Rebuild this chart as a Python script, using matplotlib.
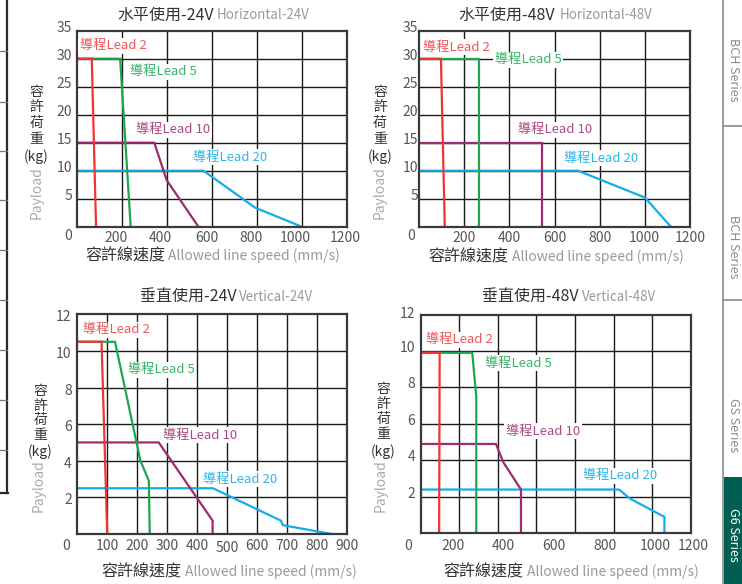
import numpy as np
import matplotlib
matplotlib.use("Agg")
import matplotlib.pyplot as plt
from matplotlib.transforms import offset_copy
from matplotlib.patches import Rectangle
from matplotlib.lines import Line2D

W, H = 742, 584
plt.rcParams['font.family'] = ['Noto Sans CJK TC', 'DejaVu Sans']

# ---------------- data ----------------
lead_names = ['導程Lead 2', '導程Lead 5', '導程Lead 10', '導程Lead 20']
titles_cn = ['水平使用-24V', '水平使用-48V', '垂直使用-24V', '垂直使用-48V']
titles_en = ['Horizontal-24V', 'Horizontal-48V', 'Vertical-24V', 'Vertical-48V']
xlabel_cn = '容許線速度'
xlabel_en = 'Allowed line speed (mm/s)'
ylabel_chars = ['容', '許', '荷', '重', '(kg)']
ylabel_en = 'Payload'
tab_texts = ['BCH Series', 'BCH Series', 'GS Series', 'G6 Series']

# Horizontal 24V  (speed mm/s, payload kg)
h24_lead2_x = [0, 67, 86];                 h24_lead2_y = [30, 30, 0]
h24_lead5_x = [0, 193, 240];               h24_lead5_y = [30, 30, 0]
h24_lead10_x = [0, 345, 358, 400, 541];    h24_lead10_y = [15, 15, 13.4, 8.3, 0]
h24_lead20_x = [0, 563, 793, 1000];        h24_lead20_y = [10, 10, 3.4, 0]

# Horizontal 48V
h48_lead2_x = [0, 96, 113];                h48_lead2_y = [30, 30, 0]
h48_lead5_x = [0, 264, 264];               h48_lead5_y = [30, 30, 0]
h48_lead10_x = [0, 545, 545];              h48_lead10_y = [15, 15, 0]
h48_lead20_x = [0, 704, 1001, 1116];       h48_lead20_y = [10, 10, 5.2, 0]

# Vertical 24V
v24_lead2_x = [0, 81, 100];                v24_lead2_y = [10.5, 10.5, 0]
v24_lead5_x = [0, 126, 211, 239, 242];     v24_lead5_y = [10.5, 10.5, 4.0, 2.9, 0]
v24_lead10_x = [0, 272, 452, 452];         v24_lead10_y = [5, 5, 0.73, 0]
v24_lead20_x = [0, 453, 680, 687, 850];    v24_lead20_y = [2.5, 2.5, 0.73, 0.48, 0]

# Vertical 48V
v48_lead2_x = [0, 147, 145];               v48_lead2_y = [9.9, 9.9, 0]
v48_lead5_x = [0, 276, 292, 292];          v48_lead5_y = [9.9, 9.9, 7.5, 0]
v48_lead10_x = [0, 370, 399, 469, 469];    v48_lead10_y = [4.9, 4.9, 3.9, 2.4, 0]
v48_lead20_x = [0, 857, 901, 1037, 1037];  v48_lead20_y = [2.4, 2.4, 1.9, 0.9, 0]

h_xticks = [0, 200, 400, 600, 800, 1000, 1200]
h_yticks = [5, 10, 15, 20, 25, 30, 35]
v24_xticks = [0, 100, 200, 300, 400, 500, 600, 700, 800, 900]
v48_xticks = [0, 200, 400, 600, 800, 1000, 1200]
v_yticks = [2, 4, 6, 8, 10, 12]

series = [
    [(h24_lead2_x, h24_lead2_y), (h24_lead5_x, h24_lead5_y), (h24_lead10_x, h24_lead10_y), (h24_lead20_x, h24_lead20_y)],
    [(h48_lead2_x, h48_lead2_y), (h48_lead5_x, h48_lead5_y), (h48_lead10_x, h48_lead10_y), (h48_lead20_x, h48_lead20_y)],
    [(v24_lead2_x, v24_lead2_y), (v24_lead5_x, v24_lead5_y), (v24_lead10_x, v24_lead10_y), (v24_lead20_x, v24_lead20_y)],
    [(v48_lead2_x, v48_lead2_y), (v48_lead5_x, v48_lead5_y), (v48_lead10_x, v48_lead10_y), (v48_lead20_x, v48_lead20_y)],
]

# ---------------- style / layout ----------------
line_colors = ['#ee3535', '#1ea64f', '#9c2c6c', '#15aceb']
text_colors = ['#f25558', '#36b46a', '#ab4a83', '#2db6ee']
DARK = '#333333'
GRAY = '#9a9a9a'
TICK = '#555555'
YS = 2.0      # vertical correction for text (px, downward)
TYS = 3.0     # vertical correction for tick labels (px, downward)

def fx(x):
    return x / W

def fy(y):
    return 1 - y / H

# per panel: axes box in px (left, top, right, bottom)
boxes = [(76.7, 30.7, 346.7, 226.7), (419.3, 30.7, 689.8, 226.7),
         (77.3, 314.3, 346.7, 534.0), (420.7, 314.5, 690.7, 533.3)]
xlims = [(0, 1200), (0, 1200), (0, 900), (72, 1141)]
ylims = [(0, 35), (0, 35), (0, 12), (0, 12)]
xticks_all = [h_xticks, h_xticks, v24_xticks, v48_xticks]
yticks_all = [h_yticks, h_yticks, v_yticks, v_yticks]
xgrid = [[200, 400, 600, 800, 1000], [200, 400, 600, 800, 1000],
         [100, 200, 300, 400, 500, 600, 700, 800],
         list(np.linspace(72, 1141, 8)[1:-1])]
ygrid = [[5, 10, 15, 20, 25, 30], [5, 10, 15, 20, 25, 30], [2, 4, 6, 8, 10], [2, 4, 6, 8, 10]]
# tick label pixel offsets (dx, dy)
xtick_dx = [[-8.4, -6, -6, -5, -6, -6, -1], [-8.3, 0, 0, 0, 0, 0, 0],
            [-11.3, 0, 0, 0, 0, 0, 0, 0, 0, 0], [5.4, 0, 0, 0, 0, 0, -12.6]]
xtick_dy = [[-6.3] + [-8.4] * 6, [-6.6] + [-8.4] * 6,
            [-9, -9, -9, -9, -9, -11, -9, -9, -9, -9], [-10] * 7]
ytick_dx = [-4.7, -1.0, -5.6, -5.7]
ytick_dy = [[5.7] * 7, [5.7] * 7, [0] * 6, [6, 6, 6, 6, 6, 3.7]]

# text positions (px)
title_split = [(213.5, 216.5, 13), (555.0, 559.3, 13), (236.7, 239.3, 295), (578.3, 581.7, 295)]
xlabel_split = [(165, 168.3, 254), (508.3, 511.7, 255), (181.7, 185, 570), (523.3, 526.7, 570)]
ylab_x = [36.5, 380, 40.5, 383.5]
ylab_ys = [[90, 105.5, 121, 137, 155], [90, 105.5, 121, 137, 155],
           [389, 404, 418, 433, 450], [387, 402, 417, 432, 450]]
payload_pos = [(37, 192.5), (379.5, 192.5), (39, 486), (381, 486)]
lead_pos = [
    [(80, 44), (130, 70), (136, 128), (193, 155)],
    [(423, 45), (495, 58), (518, 128), (564, 156)],
    [(83, 328), (128, 368), (163, 433), (203, 477)],
    [(426, 338), (485, 361), (506, 429), (583, 474)],
]
tab_pos = [(733, 70), (733, 247), (733, 425), (733, 535)]
tab_colors = ['#8a8a8a', '#8a8a8a', '#8a8a8a', 'white']

fig = plt.figure(figsize=(W / 100, H / 100), dpi=100)
fig.patch.set_facecolor('white')

def ftext(x, y, s, **kw):
    return fig.text(fx(x), fy(y + YS), s, **kw)

for i in range(4):
    l, t, r, b = boxes[i]
    ax = fig.add_axes([fx(l), fy(b), (r - l) / W, (b - t) / H])
    ax.set_xlim(*xlims[i])
    ax.set_ylim(*ylims[i])
    ax.set_xticks(xgrid[i])
    ax.set_yticks(ygrid[i])
    ax.tick_params(length=0, labelbottom=False, labelleft=False)
    ax.grid(True, color='#1a1a1a', linewidth=1.0, zorder=0)
    ax.set_axisbelow(True)
    for sp in ax.spines.values():
        sp.set_color('#3a3a3a')
        sp.set_linewidth(1.6)
        sp.set_zorder(5)
    # data lines (blue bottom, red top)
    for k in [3, 2, 1, 0]:
        xs, ys = series[i][k]
        ax.plot(xs, ys, color=line_colors[k], linewidth=1.6,
                solid_joinstyle='miter', zorder=2 + (3 - k) * 0.1)
    # tick labels
    for v, dx, dy in zip(xticks_all[i], xtick_dx[i], xtick_dy[i]):
        tr = offset_copy(ax.get_xaxis_transform(), fig=fig, x=dx, y=dy - TYS, units='dots')
        ax.text(v, 0, str(v), transform=tr, ha='center', va='center',
                fontsize=10, color=TICK)
    for v, dy in zip(yticks_all[i], ytick_dy[i]):
        tr = offset_copy(ax.get_yaxis_transform(), fig=fig, x=ytick_dx[i], y=dy - TYS, units='dots')
        ax.text(0, v, str(v), transform=tr, ha='right', va='center',
                fontsize=10, color=TICK)
    # titles
    xa, xb, yy = title_split[i]
    ftext(xa, yy, titles_cn[i], ha='right', va='center', fontsize=11.5, color=DARK)
    ftext(xb, yy, titles_en[i], ha='left', va='center', fontsize=9.6,
          color=GRAY, fontweight='light')
    # x label
    xa, xb, yy = xlabel_split[i]
    ftext(xa, yy, xlabel_cn, ha='right', va='center', fontsize=11.5, color=DARK)
    ftext(xb, yy, xlabel_en, ha='left', va='center', fontsize=10,
          color=GRAY, fontweight='light')
    # y label (stacked characters)
    for ch, yy in zip(ylabel_chars, ylab_ys[i]):
        ftext(ylab_x[i], yy, ch, ha='center', va='center', fontsize=10, color=DARK)
    px, py = payload_pos[i]
    fig.text(fx(px), fy(py), ylabel_en, rotation=90, ha='center', va='center',
             fontsize=10, color='#aaaaaa', fontweight='light')
    # lead annotations
    for k in range(4):
        lx, ly = lead_pos[i][k]
        ftext(lx, ly, lead_names[k], ha='left', va='center', fontsize=9.5,
              color=text_colors[k],
              bbox=dict(facecolor='white', edgecolor='none', pad=1.2))

# ---------------- page decorations (cropped page edges) ----------------
fig.add_artist(Line2D([fx(7.5), fx(7.5)], [fy(0), fy(493)], color='#2a2a2a', linewidth=1.6))
fig.add_artist(Line2D([fx(0), fx(8.3)], [fy(493), fy(493)], color='#2a2a2a', linewidth=1.6))
for yy in [51, 102, 151, 200, 250, 300, 350, 400, 450]:
    fig.add_artist(Line2D([fx(0), fx(7.5)], [fy(yy), fy(yy)], color='#777777', linewidth=0.9))

fig.add_artist(Line2D([fx(723), fx(723)], [fy(0), fy(584)], color='#8a8a8a', linewidth=1.2))
for yy in [126, 300]:
    fig.add_artist(Line2D([fx(723), fx(742)], [fy(yy), fy(yy)], color='#8a8a8a', linewidth=1.2))
fig.add_artist(Rectangle((fx(723.5), 0), fx(742) - fx(723.5), fy(477), transform=fig.transFigure,
                         facecolor='#005f50', edgecolor='none'))
for txt, (tx, ty), col in zip(tab_texts, tab_pos, tab_colors):
    fig.text(fx(tx), fy(ty), txt, rotation=-90, ha='center', va='center',
             fontsize=9, color=col)

fig.savefig('out.png', dpi=100, facecolor='white')
